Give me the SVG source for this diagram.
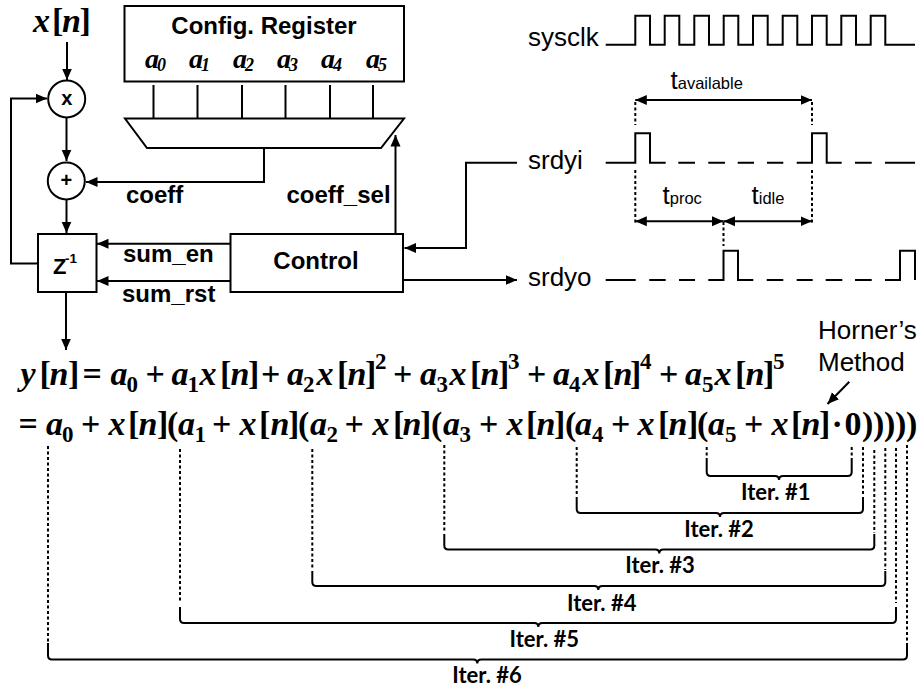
<svg xmlns="http://www.w3.org/2000/svg" width="917" height="692" viewBox="0 0 917 692">
<style>
.l{fill:none;stroke:#000;stroke-width:2}
.b{fill:#fff;stroke:#000;stroke-width:2}
.d{fill:none;stroke:#000;stroke-width:2;stroke-dasharray:3 2.500}
.a{marker-end:url(#ah)}
.aa{marker-start:url(#ah);marker-end:url(#ah)}
text{fill:#000}
.s{font-family:"Liberation Sans",Arial,sans-serif;font-size:24px;font-weight:700}
.r{font-family:"Liberation Sans",Arial,sans-serif;font-size:26px}
.sub{font-size:16.500px}
.it{font-family:"Lato",sans-serif;font-size:22px;font-weight:700;text-anchor:middle}
.e{font-family:"Liberation Serif","Times New Roman",serif;font-size:34px;font-weight:700}
.e .v{font-style:italic}
.e .n{font-size:23px}
.c{font-family:"Liberation Serif","Times New Roman",serif;font-size:28px;font-weight:700;font-style:italic}
.c .n{font-size:18px}
</style>
<defs>
<marker id="ah" markerUnits="userSpaceOnUse" markerWidth="12" markerHeight="11" viewBox="0 0 12 11" refX="11.500" refY="5.500" orient="auto-start-reverse"><path d="M0 0.500L11.500 5.500L0 10.500Z" fill="#000"/></marker>
</defs>
<g id="connectors">
<path class="l a" d="M67 42V80"/>
<path class="l a" d="M66.500 118V161"/>
<path class="l a" d="M66.500 200V233"/>
<path class="l a" d="M38 263.500H11V98.500H47"/>
<path class="l a" d="M66 292V350"/>
<path class="l a" d="M264 148V182H86"/>
<path class="l a" d="M395.500 234V135"/>
<path class="l a" d="M230 243.700H97"/>
<path class="l a" d="M230 281H97"/>
<path class="l a" d="M517 162.700H466V248H404.500"/>
<path class="l a" d="M403 280H517"/>
<path class="l" d="M153.500 85V118M197.500 85V118M242 85V118M285.500 85V118M330 85V118M373 85V118"/>
<path d="M849.300 381.700L827.500 404" fill="none" stroke="#000" stroke-width="2" marker-end="url(#ah)"/>
</g>
<g id="config-register">
<rect class="b" x="124.500" y="6" width="279.500" height="75.500"/>
<text class="s" x="264" y="34" text-anchor="middle">Config. Register</text>
<text class="c"><tspan x="145" y="68">a</tspan><tspan class="n" x="157" y="71">0</tspan><tspan x="189" y="68">a</tspan><tspan class="n" x="201" y="71">1</tspan><tspan x="233" y="68">a</tspan><tspan class="n" x="245" y="71">2</tspan><tspan x="277" y="68">a</tspan><tspan class="n" x="289" y="71">3</tspan><tspan x="321" y="68">a</tspan><tspan class="n" x="333" y="71">4</tspan><tspan x="366" y="68">a</tspan><tspan class="n" x="378" y="71">5</tspan></text>
</g>
<g id="mux"><path class="b" d="M125 118.500H404L381 148H147Z"/></g>
<g id="input-label"><text class="e"><tspan class="v" x="33" y="32">x</tspan><tspan x="52" y="32">[</tspan><tspan class="v" x="62" y="32">n</tspan><tspan x="79.500" y="32">]</tspan></text></g>
<g id="mult"><circle class="b" cx="66.700" cy="99" r="18.500"/><text x="66.700" y="105" text-anchor="middle" class="s" style="font-size:20px">x</text></g>
<g id="adder"><circle class="b" cx="66.300" cy="181" r="18.500"/><text x="66.300" y="187" text-anchor="middle" class="s" style="font-size:20px">+</text></g>
<g id="delay"><rect class="b" x="38" y="234" width="58.500" height="58"/><text class="s" x="53" y="274" style="font-size:22px">Z</text><text class="s" x="65" y="263" style="font-size:13.500px">-1</text></g>
<g id="control"><rect class="b" x="230.500" y="234" width="172.500" height="58"/><text class="s" x="316" y="269" text-anchor="middle">Control</text></g>
<g id="signal-labels">
<text class="s" x="126" y="203">coeff</text>
<text class="s" x="286.500" y="203">coeff_sel</text>
<text class="s" x="123" y="262">sum_en</text>
<text class="s" x="122" y="302">sum_rst</text>
</g>
<g id="timing">
<text class="r" x="528" y="46">sysclk</text>
<text class="r" x="528" y="169">srdyi</text>
<text class="r" x="528" y="286">srdyo</text>
<path class="l" d="M605.700 44.700H635.300V15.700H650V44.700H664.700V15.700H679.300V44.700H694.300V15.700H709V44.700H723.700V15.700H738.300V44.700H753V15.700H767.700V44.700H782.700V15.700H797.300V44.700H812V15.700H826.700V44.700H841.300V15.700H856V44.700H870.700V15.700H885.300V44.700H915"/>
<path class="l" d="M605.700 162.700H635.300V133.300H650V162.700H665.700M678.300 162.700H695M708.300 162.700H725M737.700 162.700H754M767 162.700H783.300M796.700 162.700H812V133.300H826.700V162.700H841.700M855 162.700H871.700M885 162.700H915"/>
<path class="l" d="M605.700 280H635.700M649.300 280H665.700M679 280H695M708.300 280H723.500V250.700H738V280H753.300M766.700 280H783.300M796.700 280H812.700M825.700 280H842.300M855 280H871.700M885 280H900V250.700H915V280"/>
<path class="d" d="M635.300 102V125M812 102V125M635.300 170V223M812 170V223M723.500 222V246"/>
<path class="l aa" d="M635.300 100H812"/>
<path class="l aa" d="M635.300 221.300H723.500"/>
<path class="l aa" d="M723.500 221.300H812"/>
<text class="r" x="670.500" y="88.500">t<tspan class="sub">available</tspan></text>
<text class="r" x="662.500" y="204">t<tspan class="sub">proc</tspan></text>
<text class="r" x="751.500" y="204">t<tspan class="sub">idle</tspan></text>
</g>
<g id="horner">
<text class="r" x="818" y="339">Horner’s</text>
<text class="r" x="818" y="370.500">Method</text>
</g>
<g id="equations">
<text class="e"><tspan class="v" x="20.500" y="385">y</tspan><tspan x="39.500" y="385">[</tspan><tspan class="v" x="49.500" y="385">n</tspan><tspan x="68" y="385">]</tspan><tspan x="82.500" y="385">=</tspan><tspan class="v" x="110.500" y="385">a</tspan><tspan class="n" x="126.500" y="392">0</tspan><tspan x="145.500" y="385">+</tspan><tspan class="v" x="171.500" y="385">a</tspan><tspan class="n" x="187.500" y="392">1</tspan><tspan class="v" x="199.500" y="385">x</tspan><tspan x="220" y="385">[</tspan><tspan class="v" x="230.500" y="385">n</tspan><tspan x="248" y="385">]</tspan><tspan x="261" y="385">+</tspan><tspan class="v" x="287" y="385">a</tspan><tspan class="n" x="303" y="392">2</tspan><tspan class="v" x="316.500" y="385">x</tspan><tspan x="337" y="385">[</tspan><tspan class="v" x="347.500" y="385">n</tspan><tspan x="365" y="385">]</tspan><tspan class="n" x="375" y="369">2</tspan><tspan x="393" y="385">+</tspan><tspan class="v" x="420" y="385">a</tspan><tspan class="n" x="436.500" y="392">3</tspan><tspan class="v" x="449.500" y="385">x</tspan><tspan x="470" y="385">[</tspan><tspan class="v" x="480.500" y="385">n</tspan><tspan x="498" y="385">]</tspan><tspan class="n" x="508" y="369">3</tspan><tspan x="527" y="385">+</tspan><tspan class="v" x="553" y="385">a</tspan><tspan class="n" x="569" y="392">4</tspan><tspan class="v" x="582.500" y="385">x</tspan><tspan x="603" y="385">[</tspan><tspan class="v" x="613.500" y="385">n</tspan><tspan x="630" y="385">]</tspan><tspan class="n" x="640" y="369">4</tspan><tspan x="659" y="385">+</tspan><tspan class="v" x="685" y="385">a</tspan><tspan class="n" x="702" y="392">5</tspan><tspan class="v" x="714.500" y="385">x</tspan><tspan x="735" y="385">[</tspan><tspan class="v" x="745.500" y="385">n</tspan><tspan x="763" y="385">]</tspan><tspan class="n" x="773" y="369">5</tspan></text>
<text class="e"><tspan x="18.500" y="435">=</tspan><tspan class="v" x="46" y="435">a</tspan><tspan class="n" x="62" y="442">0</tspan><tspan x="81" y="435">+</tspan><tspan class="v" x="108.500" y="435">x</tspan><tspan x="128" y="435">[</tspan><tspan class="v" x="138.500" y="435">n</tspan><tspan x="157" y="435">]</tspan><tspan x="167" y="435">(</tspan><tspan class="v" x="178" y="435">a</tspan><tspan class="n" x="194.500" y="442">1</tspan><tspan x="212" y="435">+</tspan><tspan class="v" x="239.500" y="435">x</tspan><tspan x="259" y="435">[</tspan><tspan class="v" x="270.500" y="435">n</tspan><tspan x="288" y="435">]</tspan><tspan x="298" y="435">(</tspan><tspan class="v" x="310" y="435">a</tspan><tspan class="n" x="326.500" y="442">2</tspan><tspan x="344.500" y="435">+</tspan><tspan class="v" x="372.500" y="435">x</tspan><tspan x="393" y="435">[</tspan><tspan class="v" x="402.500" y="435">n</tspan><tspan x="420" y="435">]</tspan><tspan x="431" y="435">(</tspan><tspan class="v" x="443" y="435">a</tspan><tspan class="n" x="459.500" y="442">3</tspan><tspan x="479" y="435">+</tspan><tspan class="v" x="506.500" y="435">x</tspan><tspan x="526" y="435">[</tspan><tspan class="v" x="536.500" y="435">n</tspan><tspan x="554" y="435">]</tspan><tspan x="565" y="435">(</tspan><tspan class="v" x="575" y="435">a</tspan><tspan class="n" x="592" y="442">4</tspan><tspan x="611" y="435">+</tspan><tspan class="v" x="637.500" y="435">x</tspan><tspan x="658" y="435">[</tspan><tspan class="v" x="668.500" y="435">n</tspan><tspan x="687" y="435">]</tspan><tspan x="697" y="435">(</tspan><tspan class="v" x="708" y="435">a</tspan><tspan class="n" x="725" y="442">5</tspan><tspan x="744" y="435">+</tspan><tspan class="v" x="771.500" y="435">x</tspan><tspan x="791" y="435">[</tspan><tspan class="v" x="801.500" y="435">n</tspan><tspan x="819" y="435">]</tspan><tspan x="831.500" y="435">·</tspan><tspan x="844.500" y="435">0</tspan><tspan x="862" y="435">)</tspan><tspan x="873" y="435">)</tspan><tspan x="884" y="435">)</tspan><tspan x="895" y="435">)</tspan><tspan x="906" y="435">)</tspan></text>
</g>
<g id="iterations">
<path class="d" d="M706.700 447V460M851.700 447V460M576.700 447V496M863 447V496M444.300 445V533M874.300 450V533M312.300 449V570M885.300 448V570M180 449V603M896 448V603M48 446V642M907 445V642"/>
<path class="l" d="M706.700 460V472Q706.700 476 710.700 476H775Q779 476 779 480Q779 476 783 476H847.700Q851.700 476 851.700 472V460"/>
<path class="l" d="M576.700 497V509Q576.700 513 580.700 513H716Q720 513 720 517Q720 513 724 513H859Q863 513 863 509V497"/>
<path class="l" d="M444.300 534V545.500Q444.300 549.500 448.300 549.500H655.300Q659.300 549.500 659.300 553.500Q659.300 549.500 663.300 549.500H870.300Q874.300 549.500 874.300 545.500V534"/>
<path class="l" d="M312.300 571V582Q312.300 586 316.300 586H594.300Q598.300 586 598.300 590Q598.300 586 602.300 586H881.300Q885.300 586 885.300 582V571"/>
<path class="l" d="M180 607V619Q180 623 184 623H534.300Q538.300 623 538.300 627Q538.300 623 542.300 623H892Q896 623 896 619V607"/>
<path class="l" d="M48 643V655.500Q48 659.500 52 659.500H473.300Q477.300 659.500 477.300 663.500Q477.300 659.500 481.300 659.500H903Q907 659.500 907 655.500V643"/>
<text class="it" x="775.700" y="500">Iter. #1</text>
<text class="it" x="719" y="537">Iter. #2</text>
<text class="it" x="660" y="573">Iter. #3</text>
<text class="it" x="601.700" y="610.500">Iter. #4</text>
<text class="it" x="544.300" y="647">Iter. #5</text>
<text class="it" x="487" y="683">Iter. #6</text>
</g>
</svg>
